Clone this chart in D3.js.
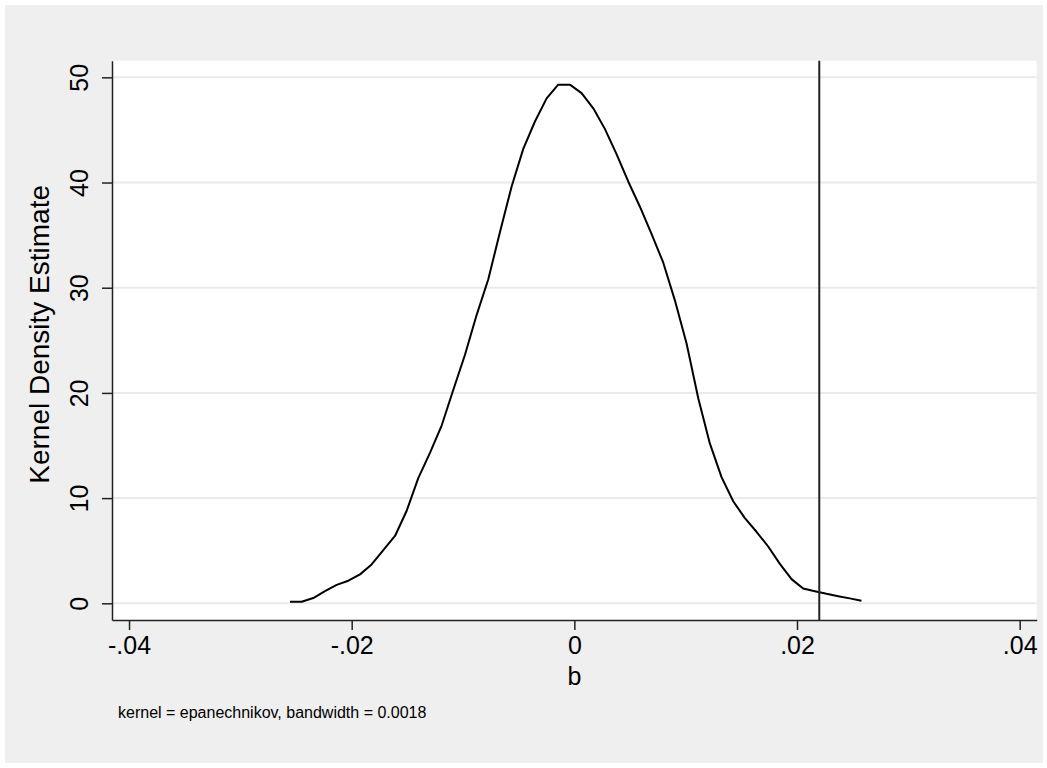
<!DOCTYPE html>
<html>
<head>
<meta charset="utf-8">
<script src="https://cdn.jsdelivr.net/npm/d3@7"></script>
<style>
  body { margin: 0; background: #ffffff; }
  text { font-family: "Liberation Sans", Arial, sans-serif; fill: #000; }
</style>
</head>
<body>
<svg id="chart"></svg>
<script>
  // density estimate points (b, density)
  const bValues = [
    -0.02554, -0.02449, -0.02345, -0.0224, -0.02135, -0.0203, -0.01925, -0.01821, -0.01716, -0.01611,
    -0.01506, -0.01402, -0.01297, -0.01192, -0.01087, -0.00983, -0.00878, -0.00773, -0.00668, -0.00564,
    -0.00459, -0.00354, -0.00249, -0.00145, -0.0004, 0.00065, 0.0017, 0.00274, 0.00379, 0.00484,
    0.00589, 0.00694, 0.00798, 0.00903, 0.01008, 0.01113, 0.01217, 0.01322, 0.01427, 0.01532,
    0.01636, 0.01741, 0.01846, 0.01951, 0.02055, 0.0216, 0.02265, 0.0237, 0.02474, 0.02579
  ];
  const densityValues = [
    0.15, 0.15, 0.5, 1.15, 1.75, 2.15, 2.75, 3.7, 5.05, 6.4,
    8.8, 11.9, 14.3, 16.9, 20.3, 23.6, 27.4, 30.8, 35.3, 39.6,
    43.2, 45.8, 48.0, 49.3, 49.3, 48.5, 47.05, 45.1, 42.7, 40.1,
    37.7, 35.1, 32.4, 28.8, 24.7, 19.5, 15.2, 12.0, 9.7, 8.1,
    6.8, 5.4, 3.75, 2.3, 1.4, 1.15, 0.9, 0.68, 0.47, 0.25
  ];
  const xTicks = [-0.04, -0.02, 0, 0.02, 0.04];
  const xTickLabels = ["-.04", "-.02", "0", ".02", ".04"];
  const yTicks = [0, 10, 20, 30, 40, 50];
  const refLine = 0.022;

  const width = 1047;
  const height = 768;
  const plot = { left: 112, right: 1036.7, top: 60.7, bottom: 620 };

  const svg = d3.select("#chart").attr("width", width).attr("height", height);

  // outer gray background
  svg.append("rect")
    .attr("x", 5).attr("y", 5)
    .attr("width", 1038).attr("height", 758)
    .attr("fill", "#efefef");

  svg.append("rect")
    .attr("x", plot.left).attr("y", plot.top)
    .attr("width", plot.right - plot.left).attr("height", plot.bottom - plot.top)
    .attr("fill", "#ffffff");

  const xScale = d3.scaleLinear()
    .domain([-0.04153, 0.04153])
    .range([plot.left, plot.right]);
  const yScale = d3.scaleLinear()
    .domain([-1.587, 51.58])
    .range([plot.bottom, plot.top]);

  // gridlines
  svg.append("g")
    .selectAll("line")
    .data(yTicks)
    .join("line")
    .attr("x1", plot.left).attr("x2", plot.right)
    .attr("y1", (d) => yScale(d)).attr("y2", (d) => yScale(d))
    .attr("stroke", "#eaeaea")
    .attr("stroke-width", 2);

  // density curve
  const points = bValues.map((b, i) => ({ b: b, d: densityValues[i] }));
  const line = d3.line()
    .x((d) => xScale(d.b))
    .y((d) => yScale(d.d));

  svg.append("path")
    .attr("d", line(points))
    .attr("fill", "none")
    .attr("stroke", "#000")
    .attr("stroke-width", 2)
    .attr("stroke-linejoin", "round");

  // reference line
  svg.append("line")
    .attr("x1", xScale(refLine)).attr("x2", xScale(refLine))
    .attr("y1", plot.top).attr("y2", plot.bottom)
    .attr("stroke", "#222")
    .attr("stroke-width", 2);

  // axes
  const xAxis = d3.axisBottom(xScale)
    .tickValues(xTicks)
    .tickFormat((d, i) => xTickLabels[i])
    .tickSize(10)
    .tickPadding(6)
    .tickSizeOuter(0);
  const gx = svg.append("g")
    .attr("transform", `translate(0,${plot.bottom})`)
    .call(xAxis);
  gx.select(".domain").attr("stroke", "#222").attr("stroke-width", 1.5);
  gx.selectAll(".tick line").attr("stroke", "#222").attr("stroke-width", 1.5);
  gx.selectAll(".tick text")
    .attr("font-size", 25)
    .attr("font-family", "Liberation Sans, Arial, sans-serif")
    .attr("fill", "#000");

  const yAxis = d3.axisLeft(yScale)
    .tickValues(yTicks)
    .tickSize(10)
    .tickSizeOuter(0);
  const gy = svg.append("g")
    .attr("transform", `translate(${plot.left},0)`)
    .call(yAxis);
  gy.select(".domain").attr("stroke", "#222").attr("stroke-width", 1.5);
  gy.selectAll(".tick line").attr("stroke", "#222").attr("stroke-width", 1.5);
  gy.selectAll(".tick text")
    .attr("x", null).attr("dy", null)
    .attr("transform", "translate(-24,0) rotate(-90)")
    .attr("text-anchor", "middle")
    .attr("font-size", 25)
    .attr("font-family", "Liberation Sans, Arial, sans-serif")
    .attr("fill", "#000");

  // titles
  svg.append("text")
    .attr("transform", `translate(49,${(plot.top + plot.bottom) / 2 - 6}) rotate(-90)`)
    .attr("text-anchor", "middle")
    .attr("font-size", 28)
    .text("Kernel Density Estimate");

  svg.append("text")
    .attr("x", xScale(0))
    .attr("y", 685)
    .attr("text-anchor", "middle")
    .attr("font-size", 25)
    .text("b");

  svg.append("text")
    .attr("x", 118)
    .attr("y", 718)
    .attr("font-size", 16)
    .text("kernel = epanechnikov, bandwidth = 0.0018");
</script>
</body>
</html>
